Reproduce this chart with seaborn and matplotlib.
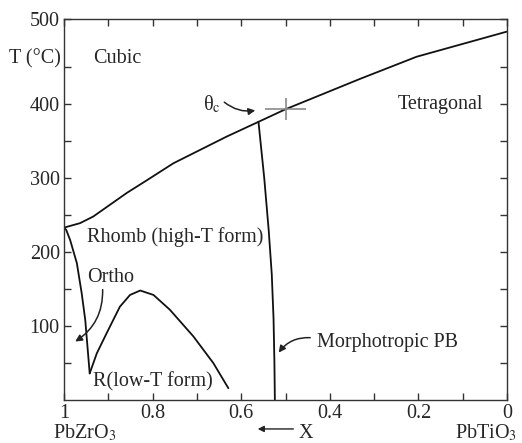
import numpy as np
import pandas as pd
import seaborn as sns
import matplotlib.pyplot as plt

sns.set_style("ticks")
plt.rcParams['font.family'] = ['Liberation Serif', 'DejaVu Serif']
plt.rcParams['mathtext.fontset'] = 'stix'
plt.rcParams['font.size'] = 14.5

# phase boundaries (x = Zr fraction, T in deg C)
curie_x = [1.0, 0.964, 0.934, 0.896, 0.858, 0.813, 0.753, 0.693, 0.633, 0.561,
           0.50, 0.332, 0.204, 0.0]
curie_t = [233, 239, 248, 264, 280, 297, 320, 338, 356, 376,
           393, 434, 464, 498]

mpb_x = [0.561, 0.548, 0.538, 0.531, 0.527, 0.525, 0.524]
mpb_t = [376, 300, 230, 170, 110, 50, 0]

ortho_x = [1.0, 0.995, 0.986, 0.971, 0.960, 0.952, 0.947, 0.942]
ortho_t = [233, 230, 216, 185, 144, 108, 72, 36]

lowt_x = [0.942, 0.926, 0.904, 0.874, 0.851, 0.828, 0.798, 0.761, 0.708, 0.663, 0.629]
lowt_t = [36, 63, 90, 126, 142, 148, 142, 122, 86, 50, 16]

# theta_c marker
thetac_x = [0.50]
thetac_t = [393]

xticks = [1, 0.8, 0.6, 0.4, 0.2, 0]
xticklabels = ['1', '0.8', '0.6', '0.4', '0.2', '0']
yticks = [100, 200, 300, 400, 515]
yticklabels = ['100', '200', '300', '400', '500']

fig = plt.figure(figsize=(5.22, 4.43), dpi=100)
ax = fig.add_axes([64/522, 1-400/443, 443/522, 381/443])

for xs, ts in [(curie_x, curie_t), (mpb_x, mpb_t), (ortho_x, ortho_t), (lowt_x, lowt_t)]:
    df = pd.DataFrame({'x': xs, 't': ts})
    sns.lineplot(data=df, x='x', y='t', sort=False, estimator=None,
                 color='#111111', lw=1.3, ax=ax)

ax.errorbar(thetac_x, thetac_t, xerr=0.047, yerr=15, fmt='none',
            ecolor='#8a8a8a', elinewidth=1.2, capsize=0)

ax.set_xlim(1, 0)
ax.set_ylim(0, 515)
ax.set_xticks(xticks, xticklabels)
ax.set_xticks(np.arange(0.1, 1.0, 0.2), minor=True)
ax.set_yticks(yticks, yticklabels)
ax.set_yticks(np.arange(50, 500, 100), minor=True)
ax.tick_params(which='both', direction='in', length=5, width=1, color='#333333',
               top=True, right=True, pad=3)
ax.set_xlabel('')
ax.set_ylabel('')
for s in ax.spines.values():
    s.set_color('#333333')
    s.set_linewidth(1)

# region labels
ax.text(0.935, 461, 'Cubic', ha='left', va='center')
ax.text(0.246, 399, 'Tetragonal', ha='left', va='center')
ax.text(0.948, 220, 'Rhomb (high-T form)', ha='left', va='center')
ax.text(0.948, 166, 'Ortho', ha='left', va='center')
ax.text(0.935, 24, 'R(low-T form)', ha='left', va='center')
ax.text(0.429, 78, 'Morphotropic PB', ha='left', va='center')
ax.text(0.645, 400, 'θ$_\\mathrm{c}$', ha='right', va='center')

arrow = dict(arrowstyle='-|>', color='#222222', lw=1.1, mutation_scale=10)
ax.annotate('', xy=(0.562, 392), xytext=(0.643, 405),
            arrowprops=dict(arrow, connectionstyle='arc3,rad=0.25'))
ax.annotate('', xy=(0.980, 77), xytext=(0.913, 153),
            arrowprops=dict(arrow, connectionstyle='arc3,rad=-0.3'))
ax.annotate('', xy=(0.519, 61), xytext=(0.438, 84),
            arrowprops=dict(arrow, connectionstyle='arc3,rad=0.3'))

# axis annotations
ax.text(-0.066, 461/515, 'T (°C)', transform=ax.transAxes, ha='center', va='center')
ax.text(0.047, -0.087, 'PbZrO$_3$', transform=ax.transAxes, ha='center', va='center')
ax.text(0.953, -0.087, 'PbTiO$_3$', transform=ax.transAxes, ha='center', va='center')
ax.annotate('', xy=(0.431, -0.076), xytext=(0.524, -0.076), xycoords='axes fraction',
            arrowprops=dict(arrowstyle='-|>', color='#222222', lw=1, mutation_scale=9))
ax.text(0.530, -0.087, 'X', transform=ax.transAxes, ha='left', va='center')

fig.savefig('out.png', dpi=100)
